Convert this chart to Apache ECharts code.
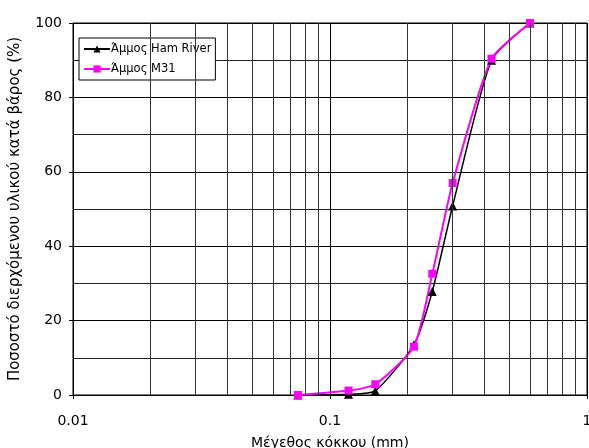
<!DOCTYPE html>
<html>
<head>
<meta charset="utf-8">
<script src="https://cdn.jsdelivr.net/npm/echarts@6/dist/echarts.min.js"></script>
<style>
  html, body { margin: 0; padding: 0; background: #fff; }
  #chart { width: 589px; height: 448px; }
</style>
</head>
<body>
<div id="chart"></div>
<script>
// μέγεθος κόκκου (mm)
const sizes = [0.075, 0.118, 0.15, 0.212, 0.25, 0.3, 0.425, 0.6];
const hamRiver = [0, 0.2, 1.1, 13.5, 27.8, 50.8, 90, 100];
const m31 = [0, 1.2, 2.9, 13, 32.6, 57, 90.4, 100];
const minorX = [0.02, 0.03, 0.04, 0.05, 0.06, 0.07, 0.08, 0.09,
                0.2, 0.3, 0.4, 0.5, 0.6, 0.7, 0.8, 0.9];

const toPoints = (ys) => sizes.map((x, i) => [x, ys[i]]);

const chart = echarts.init(document.getElementById("chart"));
chart.setOption({
  animation: false,
  textStyle: { fontFamily: "DejaVu Sans, sans-serif" },
  grid: {
    left: 73, right: 2, top: 23, bottom: 53,
    outerBoundsMode: "none",
    containLabel: false,
    show: true, borderColor: "#000", borderWidth: 1
  },
  legend: {
    left: 79, top: 38,
    orient: "vertical",
    backgroundColor: "#fff",
    borderColor: "#000", borderWidth: 1,
    padding: [5, 4, 5, 4],
    itemGap: 8,
    itemWidth: 26, itemHeight: 9,
    textStyle: { fontSize: 11.5, color: "#000", padding: [0, 0, 0, -4] }
  },
  xAxis: {
    type: "log",
    logBase: 10,
    min: 0.01, max: 1,
    name: "Μέγεθος κόκκου (mm)",
    nameLocation: "middle",
    nameGap: 41,
    nameTextStyle: { fontSize: 14, color: "#000" },
    axisLine: { lineStyle: { color: "#000", width: 1 } },
    axisTick: { show: true, length: 4, lineStyle: { color: "#000" } },
    axisLabel: { fontSize: 14, color: "#000", margin: 19, showMaxLabel: true },
    splitLine: { show: true, lineStyle: { color: "#000", width: 1 } },
    minorTick: { show: false },
    minorSplitLine: { show: false }
  },
  yAxis: {
    type: "value",
    min: 0, max: 100, interval: 20,
    name: "Ποσοστό διερχόμενου υλικού κατά βάρος (%)",
    nameLocation: "middle",
    nameGap: 50,
    nameTextStyle: { fontSize: 15, color: "#000" },
    axisLine: { show: true, lineStyle: { color: "#000", width: 1 } },
    axisTick: { show: true, length: 4, lineStyle: { color: "#000" } },
    axisLabel: { fontSize: 14, color: "#000", margin: 11 },
    splitLine: { show: true, lineStyle: { color: "#000", width: 1 } },
    minorTick: { show: false, splitNumber: 2 },
    minorSplitLine: { show: true, lineStyle: { color: "#222", width: 1 } }
  },
  series: [
    {
      name: "Άμμος Ham River",
      type: "line",
      data: toPoints(hamRiver),
      smooth: 0.2,
      symbol: "triangle",
      symbolSize: 9,
      itemStyle: { color: "#000" },
      lineStyle: { color: "#000", width: 1.5 },
      markLine: {
        silent: true,
        symbol: "none",
        animation: false,
        label: { show: false },
        lineStyle: { color: "#333", width: 1, type: "solid" },
        data: minorX.map((v) => ({ xAxis: v }))
      }
    },
    {
      name: "Άμμος M31",
      type: "line",
      data: toPoints(m31),
      smooth: 0.2,
      symbol: "rect",
      symbolSize: 8,
      itemStyle: { color: "#ff00ff" },
      lineStyle: { color: "#ff00ff", width: 2 }
    }
  ]
});
</script>
</body>
</html>
